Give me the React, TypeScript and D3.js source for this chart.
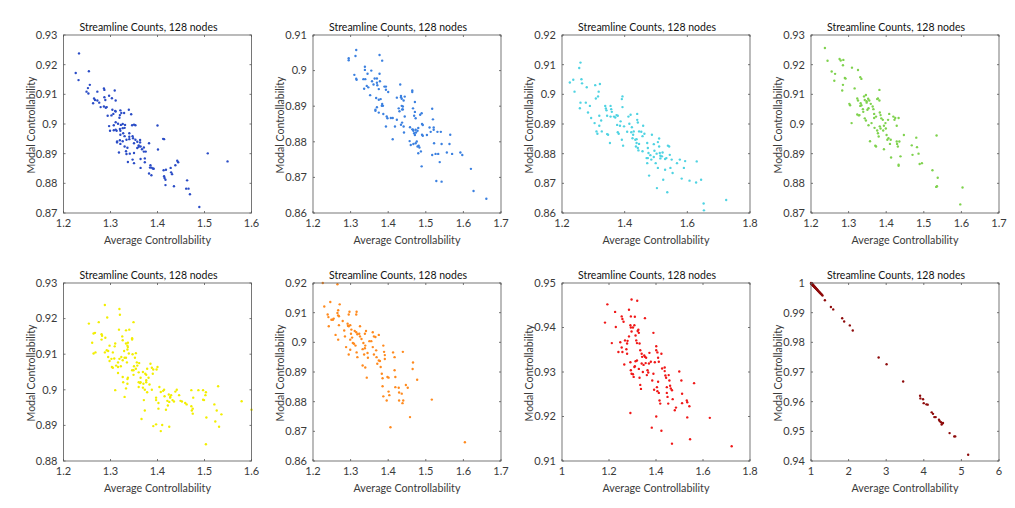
import React from "react";
import * as d3 from "d3";

const TITLE = "Streamline Counts, 128 nodes";
const X_LABEL = "Average Controllability";
const Y_LABEL = "Modal Controllability";

const COLORS = ["#2a4cc6", "#3b80e0", "#4fd3e2", "#7fd24e", "#f2ee00", "#ff8a1e", "#f01818", "#8e0b0b"];

const xTicks1 = [1.2, 1.3, 1.4, 1.5, 1.6];
const yTicks1 = [0.87, 0.88, 0.89, 0.9, 0.91, 0.92, 0.93];
const xTicks2 = [1.2, 1.3, 1.4, 1.5, 1.6, 1.7];
const yTicks2 = [0.86, 0.87, 0.88, 0.89, 0.9, 0.91];
const xTicks3 = [1.2, 1.4, 1.6, 1.8];
const yTicks3 = [0.86, 0.87, 0.88, 0.89, 0.9, 0.91, 0.92];
const xTicks4 = [1.2, 1.3, 1.4, 1.5, 1.6, 1.7];
const yTicks4 = [0.87, 0.88, 0.89, 0.9, 0.91, 0.92, 0.93];
const xTicks5 = [1.2, 1.3, 1.4, 1.5, 1.6];
const yTicks5 = [0.88, 0.89, 0.9, 0.91, 0.92, 0.93];
const xTicks6 = [1.2, 1.3, 1.4, 1.5, 1.6, 1.7];
const yTicks6 = [0.86, 0.87, 0.88, 0.89, 0.9, 0.91, 0.92];
const xTicks7 = [1, 1.2, 1.4, 1.6, 1.8];
const yTicks7 = [0.91, 0.92, 0.93, 0.94, 0.95];
const xTicks8 = [1, 2, 3, 4, 5, 6];
const yTicks8 = [0.94, 0.95, 0.96, 0.97, 0.98, 0.99, 1];

const series1: [number, number][] = [
  [1.233,0.9238],[1.226,0.9172],[1.254,0.9178],[1.232,0.9148],[1.256,0.9132],[1.252,0.9121],[1.249,0.9109],[1.253,0.9103],
  [1.272,0.9109],[1.286,0.912],[1.287,0.9115],[1.309,0.9113],
  [1.265,0.9086],[1.267,0.9081],[1.272,0.9079],[1.263,0.907],[1.276,0.9072],[1.287,0.909],[1.289,0.9081],[1.297,0.9095],[1.303,0.9087],[1.311,0.9079],
  [1.279,0.9057],[1.286,0.9059],[1.292,0.9057],[1.29,0.9055],
  [1.294,0.9028],[1.302,0.9029],[1.306,0.9034],[1.31,0.9044],[1.311,0.9042],[1.321,0.9046],[1.304,0.9048],
  [1.323,0.9037],[1.319,0.9021],[1.32,0.903],[1.329,0.9037],[1.339,0.9048],[1.344,0.9033],
  [1.297,0.8993],[1.307,0.8996],[1.311,0.9006],[1.316,0.9001],[1.322,0.8997],[1.326,0.9],[1.331,0.8997],[1.35,0.8998],[1.353,0.8996],[1.4,0.8995],
  [1.299,0.8977],[1.307,0.8979],[1.313,0.8977],[1.311,0.8981],[1.32,0.8983],[1.321,0.8977],[1.326,0.8986],[1.33,0.8987],
  [1.321,0.8964],[1.327,0.8969],[1.33,0.8959],[1.34,0.8957],[1.347,0.8959],[1.34,0.8969],[1.346,0.8996],
  [1.314,0.8941],[1.314,0.8938],[1.32,0.8945],[1.321,0.8933],[1.326,0.8942],[1.334,0.8947],[1.34,0.8949],[1.348,0.8952],[1.353,0.8947],[1.357,0.894],[1.363,0.8946],[1.36,0.8928],[1.364,0.8924],
  [1.33,0.8924],[1.336,0.892],[1.333,0.8908],[1.35,0.8935],[1.36,0.8923],[1.363,0.8938],[1.371,0.8921],[1.382,0.8935],
  [1.318,0.8904],[1.334,0.8899],[1.341,0.89],[1.35,0.8902],[1.357,0.8919],[1.367,0.8915],[1.371,0.8907],[1.375,0.8907],[1.401,0.8914],[1.412,0.895],[1.414,0.8949],
  [1.337,0.8872],[1.347,0.888],[1.35,0.8868],[1.364,0.8882],[1.373,0.8884],[1.373,0.8871],[1.385,0.8861],[1.387,0.8853],[1.384,0.8853],
  [1.364,0.8852],[1.39,0.885],[1.392,0.8849],[1.413,0.8844],[1.418,0.8846],[1.428,0.8852],[1.442,0.8876],[1.438,0.8861],[1.444,0.8871],
  [1.382,0.8833],[1.387,0.8827],[1.414,0.8824],[1.415,0.8818],[1.417,0.8812],[1.417,0.8794],[1.435,0.879],[1.429,0.8837],[1.431,0.8831],
  [1.463,0.881],[1.461,0.8782],[1.466,0.8782],[1.469,0.8763],[1.489,0.872],
  [1.507,0.8901],[1.549,0.8874],
];

const series2: [number, number][] = [
  [1.295,0.9035],[1.295,0.9029],[1.315,0.9058],[1.313,0.9041],[1.315,0.8977],[1.316,0.8974],[1.31,0.8988],
  [1.338,0.9011],[1.338,0.9002],[1.345,0.8991],[1.334,0.8976],[1.339,0.8976],[1.343,0.8957],[1.347,0.8953],[1.336,0.8949],[1.352,0.8931],
  [1.355,0.9],[1.357,0.897],[1.361,0.8961],[1.364,0.8978],[1.37,0.8978],[1.37,0.8966],[1.371,0.8959],[1.375,0.8948],[1.377,0.8991],[1.378,0.897],[1.377,0.9044],[1.384,0.9028],
  [1.368,0.8923],[1.37,0.8897],[1.366,0.889],[1.375,0.8918],[1.38,0.892],[1.384,0.8906],[1.383,0.8901],[1.386,0.8901],[1.39,0.8955],[1.394,0.8955],[1.394,0.8946],[1.4,0.894],
  [1.366,0.8887],[1.375,0.8882],[1.387,0.8878],[1.396,0.8871],[1.398,0.8866],[1.407,0.8867],[1.412,0.8867],[1.418,0.8843],[1.394,0.8843],[1.412,0.8807],[1.43,0.8886],[1.437,0.8891],
  [1.423,0.8924],[1.434,0.8929],[1.434,0.8925],[1.436,0.8921],[1.441,0.8916],[1.444,0.8927],[1.436,0.8901],[1.439,0.8899],[1.439,0.8891],[1.444,0.8871],
  [1.432,0.8961],[1.428,0.8894],[1.423,0.8862],[1.434,0.8848],[1.437,0.8854],[1.441,0.8843],[1.442,0.8826],
  [1.464,0.894],[1.464,0.8944],[1.471,0.8912],[1.466,0.8894],[1.469,0.8873],[1.471,0.8884],[1.473,0.8866],
  [1.458,0.8841],[1.464,0.8835],[1.466,0.8834],[1.467,0.8831],[1.473,0.8834],[1.474,0.8826],[1.478,0.8831],[1.48,0.8839],[1.469,0.8824],[1.471,0.8819],
  [1.457,0.8802],[1.46,0.8791],[1.467,0.8794],[1.473,0.8796],[1.476,0.8801],[1.478,0.8787],[1.481,0.8789],[1.483,0.8784],[1.48,0.8768],[1.487,0.8773],[1.489,0.8731],
  [1.489,0.888],[1.485,0.8876],[1.49,0.885],[1.492,0.8847],[1.49,0.882],[1.492,0.8817],[1.503,0.8819],[1.51,0.884],[1.513,0.8828],[1.521,0.884],
  [1.517,0.8893],[1.519,0.8863],[1.521,0.8834],[1.522,0.8796],[1.517,0.8763],[1.526,0.8766],[1.533,0.8766],[1.537,0.8743],[1.531,0.8828],
  [1.528,0.869],[1.542,0.8688],
  [1.54,0.8828],[1.542,0.8794],[1.565,0.882],[1.563,0.8794],[1.57,0.8766],[1.556,0.877],
  [1.592,0.877],[1.597,0.8763],[1.62,0.8724],[1.627,0.8662],[1.661,0.864],
];

const series3: [number, number][] = [
  [1.259,0.9107],[1.255,0.9089],[1.225,0.904],[1.236,0.9049],[1.24,0.9009],[1.262,0.9051],[1.264,0.9037],[1.259,0.8972],[1.257,0.8953],[1.276,0.8972],[1.279,0.9024],[1.283,0.8939],[1.289,0.8961],[1.293,0.892],
  [1.306,0.9031],[1.308,0.8986],[1.317,0.9009],[1.315,0.8993],[1.321,0.9035],[1.304,0.8903],[1.31,0.8875],[1.313,0.8867],[1.319,0.8928],[1.319,0.8894],[1.325,0.8912],[1.327,0.8875],
  [1.338,0.8961],[1.34,0.8952],[1.342,0.8946],[1.344,0.8928],[1.344,0.8866],[1.347,0.8864],[1.355,0.8961],[1.357,0.895],[1.359,0.8941],[1.355,0.8925],[1.353,0.8836],
  [1.366,0.8925],[1.37,0.8922],[1.374,0.893],[1.378,0.8928],[1.376,0.8897],[1.378,0.8872],[1.381,0.8867],[1.391,0.8847],[1.393,0.8993],[1.393,0.8957],[1.391,0.8984],[1.395,0.8827],
  [1.387,0.8909],[1.385,0.8894],[1.398,0.8892],[1.408,0.8874],[1.415,0.8901],[1.412,0.8925],[1.419,0.8931],[1.423,0.8889],[1.421,0.8872],[1.427,0.8864],[1.429,0.8875],[1.425,0.8852],
  [1.434,0.8847],[1.438,0.8849],[1.438,0.8836],[1.436,0.8824],[1.44,0.8914],[1.44,0.8934],[1.442,0.8905],[1.446,0.8875],[1.446,0.8833],[1.444,0.8811],[1.442,0.8819],
  [1.453,0.8874],[1.457,0.8859],[1.457,0.8808],[1.459,0.8894],[1.463,0.8867],[1.472,0.8836],[1.474,0.8819],[1.476,0.8802],[1.47,0.8785],[1.472,0.8768],[1.474,0.8785],
  [1.482,0.8795],[1.485,0.878],[1.487,0.8864],[1.478,0.8726],[1.493,0.8789],[1.495,0.881],[1.493,0.8832],[1.499,0.8768],[1.502,0.88],[1.506,0.8839],[1.506,0.8752],
  [1.51,0.8851],[1.51,0.8824],[1.512,0.8802],[1.514,0.8793],[1.514,0.8784],[1.521,0.8804],[1.519,0.8791],[1.523,0.8712],[1.529,0.8782],[1.533,0.8785],[1.529,0.8746],
  [1.538,0.8827],[1.542,0.8824],[1.544,0.8796],[1.546,0.8752],[1.55,0.878],[1.553,0.8735],[1.536,0.867],[1.503,0.8684],
  [1.567,0.8768],[1.576,0.878],[1.589,0.8752],[1.593,0.8775],[1.582,0.8716],[1.607,0.8709],[1.628,0.8703],[1.644,0.8712],[1.63,0.8774],[1.652,0.8632],[1.653,0.8609],[1.724,0.8644],
];

const series4: [number, number][] = [
  [1.237,0.9256],[1.244,0.9213],[1.255,0.9177],[1.264,0.9169],[1.262,0.9146],[1.276,0.9219],[1.279,0.9214],[1.286,0.9216],[1.285,0.9198],[1.285,0.9132],[1.283,0.9113],[1.29,0.9155],[1.292,0.9153],
  [1.309,0.919],[1.325,0.9182],[1.331,0.9158],[1.334,0.9152],[1.316,0.912],[1.302,0.9068],[1.304,0.9063],[1.308,0.9003],
  [1.323,0.9086],[1.325,0.9079],[1.323,0.9032],[1.327,0.9029],[1.329,0.903],[1.331,0.9061],[1.334,0.9063],[1.332,0.907],[1.338,0.905],[1.339,0.9041],[1.343,0.9019],[1.346,0.9012],
  [1.341,0.9093],[1.343,0.9081],[1.346,0.9098],[1.348,0.9077],[1.348,0.9072],[1.352,0.9085],[1.355,0.9079],[1.35,0.9048],[1.353,0.9053],[1.353,0.8996],[1.361,0.9003],
  [1.359,0.9068],[1.364,0.9059],[1.366,0.905],[1.368,0.9034],[1.368,0.902],[1.373,0.9025],[1.369,0.8987],[1.376,0.9084],[1.378,0.9086],[1.382,0.9079],[1.382,0.9115],
  [1.357,0.8942],[1.371,0.8927],[1.373,0.8924],[1.376,0.8978],[1.378,0.8969],[1.38,0.8958],[1.383,0.9039],[1.385,0.903],[1.387,0.9019],[1.391,0.9014],
  [1.383,0.8992],[1.385,0.8985],[1.394,0.8994],[1.392,0.8978],[1.398,0.9003],[1.399,0.8985],[1.401,0.8963],[1.403,0.8947],[1.405,0.9014],[1.406,0.8952],[1.408,0.9034],
  [1.394,0.8915],[1.41,0.8933],[1.412,0.8947],[1.419,0.9025],[1.422,0.9014],[1.424,0.902],[1.428,0.8994],[1.428,0.8941],[1.429,0.8933],[1.431,0.8924],[1.433,0.902],[1.435,0.8941],
  [1.413,0.8887],[1.433,0.8863],[1.433,0.8859],[1.438,0.8891],[1.447,0.8963],[1.468,0.8928],[1.47,0.8896],[1.48,0.8954],[1.482,0.8922],[1.486,0.89],[1.489,0.8865],[1.495,0.8868],
  [1.523,0.8844],[1.533,0.8788],[1.535,0.879],[1.537,0.8819],[1.534,0.8961],[1.597,0.8729],[1.603,0.8786],
];

const series5: [number, number][] = [
  [1.288,0.9238],[1.319,0.9227],[1.32,0.9211],[1.293,0.9203],[1.275,0.919],[1.254,0.9186],[1.264,0.9158],[1.267,0.916],[1.261,0.9132],[1.264,0.9102],[1.268,0.9105],
  [1.281,0.9156],[1.282,0.9152],[1.281,0.9141],[1.289,0.9146],
  [1.288,0.9105],[1.292,0.9111],[1.295,0.9109],[1.298,0.9124],[1.305,0.9105],[1.295,0.9092],[1.298,0.9081],[1.309,0.9122],[1.31,0.913],[1.319,0.9087],[1.308,0.9088],[1.316,0.9077],
  [1.318,0.9169],[1.325,0.915],[1.333,0.9167],[1.34,0.9169],[1.349,0.919],[1.326,0.9139],[1.333,0.913],[1.336,0.9124],[1.337,0.9132],[1.323,0.9092],[1.329,0.9109],[1.336,0.9113],[1.337,0.912],[1.339,0.9102],[1.346,0.9145],[1.346,0.9141],
  [1.302,0.9087],[1.303,0.9064],[1.305,0.9062],[1.312,0.9068],[1.316,0.9064],[1.322,0.9066],[1.326,0.9083],[1.33,0.909],[1.333,0.909],[1.335,0.9077],[1.346,0.9055],[1.35,0.9066],[1.354,0.9059],
  [1.326,0.9036],[1.327,0.9021],[1.336,0.903],[1.336,0.9017],[1.333,0.9004],[1.337,0.9034],[1.316,0.9047],[1.31,0.8999],[1.33,0.898],[1.349,0.9042],[1.349,0.9055],
  [1.347,0.91],[1.352,0.909],[1.356,0.9077],[1.357,0.9068],[1.361,0.9075],[1.354,0.9103],
  [1.369,0.905],[1.374,0.9045],[1.378,0.9059],[1.376,0.9042],[1.381,0.9034],[1.385,0.9073],[1.388,0.9062],[1.39,0.9045],[1.391,0.9057],[1.398,0.9057],[1.4,0.9064],
  [1.36,0.9049],[1.364,0.9034],[1.364,0.9021],[1.37,0.9017],[1.376,0.9027],[1.376,0.9021],[1.378,0.8993],[1.383,0.9015],[1.388,0.9],[1.397,0.8978],[1.397,0.8971],[1.402,0.8963],[1.402,0.8947],
  [1.36,0.9021],[1.363,0.9019],[1.36,0.9008],[1.369,0.9006],[1.373,0.9],
  [1.404,0.9008],[1.414,0.9],[1.424,0.8987],[1.427,0.8978],[1.432,0.8971],[1.438,0.8995],[1.441,0.9],[1.446,0.8985],[1.449,0.8969],[1.452,0.8967],
  [1.407,0.8994],[1.412,0.8997],[1.415,0.8982],[1.418,0.8944],[1.421,0.8969],[1.425,0.8966],[1.427,0.898],[1.429,0.8985],[1.435,0.8967],
  [1.371,0.8971],[1.373,0.8942],[1.366,0.8918],[1.391,0.8898],[1.407,0.8884],[1.397,0.8903],[1.41,0.8901],[1.425,0.8896],[1.422,0.8956],
  [1.459,0.8963],[1.462,0.8959],[1.472,0.8954],[1.473,0.8942],[1.475,0.8933],[1.472,0.8999],[1.476,0.8978],[1.475,0.8947],
  [1.487,0.8999],[1.497,0.8999],[1.503,0.8993],[1.499,0.8971],[1.502,0.8985],[1.497,0.8972],[1.504,0.8922],[1.529,0.901],[1.521,0.8959],[1.526,0.8942],[1.523,0.8911],[1.531,0.8896],[1.536,0.8931],[1.503,0.8847],
  [1.579,0.8968],[1.6,0.8944],
];

const series6: [number, number][] = [
  [1.226,0.92],[1.265,0.9196],[1.23,0.9121],[1.246,0.9136],[1.239,0.9094],[1.241,0.9085],[1.242,0.9054],[1.249,0.9076],[1.253,0.9076],[1.255,0.908],
  [1.267,0.9108],[1.265,0.9099],[1.271,0.9128],[1.267,0.9091],[1.269,0.9088],[1.269,0.9058],[1.26,0.9025],[1.267,0.9009],[1.279,0.9072],[1.283,0.904],[1.285,0.902],[1.288,0.8984],
  [1.295,0.9094],[1.297,0.9103],[1.292,0.9063],[1.293,0.9056],[1.295,0.9054],[1.299,0.9058],[1.302,0.9043],[1.301,0.9029],[1.299,0.9009],[1.304,0.9016],[1.306,0.8998],[1.295,0.8959],[1.299,0.8975],
  [1.315,0.9094],[1.316,0.9103],[1.311,0.9038],[1.315,0.9034],[1.318,0.9027],[1.309,0.8995],[1.313,0.8989],[1.316,0.8966],[1.318,0.895],[1.325,0.9054],[1.323,0.9029],[1.325,0.902],[1.329,0.9011],
  [1.334,0.8998],[1.332,0.8977],[1.336,0.8959],[1.338,0.898],[1.339,0.8989],[1.338,0.9029],[1.341,0.9038],[1.332,0.8922],[1.339,0.8915],[1.343,0.8881],
  [1.345,0.8964],[1.346,0.8948],[1.35,0.9004],[1.355,0.9004],[1.359,0.9034],[1.362,0.902],[1.366,0.9018],[1.359,0.8984],[1.362,0.8959],[1.368,0.8973],[1.369,0.895],[1.371,0.8928],
  [1.375,0.9025],[1.375,0.8939],[1.378,0.8937],[1.38,0.8917],[1.383,0.8894],[1.385,0.8879],[1.387,0.8989],[1.389,0.8968],[1.391,0.8957],[1.391,0.8944],[1.398,0.8883],[1.401,0.8881],
  [1.385,0.8852],[1.387,0.8818],[1.396,0.8804],[1.401,0.8834],[1.403,0.8822],[1.406,0.8714],[1.413,0.8966],[1.417,0.895],[1.417,0.8906],[1.419,0.8883],[1.439,0.8968],[1.419,0.8849],[1.428,0.8847],
  [1.429,0.8831],[1.436,0.8827],[1.429,0.8804],[1.44,0.8804],[1.438,0.8795],[1.458,0.8748],[1.452,0.8847],[1.447,0.8856],[1.465,0.891],[1.466,0.8932],[1.477,0.8874],[1.516,0.8807],[1.604,0.8663],
];

const series7: [number, number][] = [
  [1.193,0.9452],[1.183,0.9411],[1.226,0.9435],[1.229,0.9401],[1.212,0.9365],[1.24,0.9345],[1.248,0.9367],[1.254,0.9355],[1.257,0.9345],[1.254,0.9425],[1.257,0.9419],[1.262,0.9413],
  [1.268,0.9371],[1.265,0.9317],[1.274,0.9351],[1.277,0.9341],[1.277,0.9364],[1.279,0.937],[1.285,0.938],[1.285,0.944],[1.291,0.9405],[1.293,0.9425],[1.293,0.94],[1.296,0.9463],[1.296,0.9391],
  [1.291,0.9322],[1.293,0.9304],[1.296,0.9296],[1.291,0.9208],[1.302,0.94],[1.308,0.9405],[1.31,0.9424],[1.313,0.9382],[1.316,0.9371],[1.319,0.9365],[1.32,0.946],[1.322,0.9392],[1.327,0.9388],[1.325,0.9395],
  [1.33,0.9364],[1.333,0.9349],[1.339,0.9341],[1.341,0.9334],[1.302,0.9295],[1.305,0.9289],[1.308,0.9311],[1.31,0.9313],[1.313,0.9324],[1.319,0.9326],[1.327,0.9307],[1.33,0.9287],[1.333,0.9271],[1.336,0.9262],
  [1.339,0.9319],[1.344,0.93],[1.347,0.9316],[1.35,0.9337],[1.353,0.9421],[1.353,0.9334],[1.356,0.932],[1.358,0.9332],[1.361,0.9293],[1.364,0.9304],[1.367,0.9299],[1.37,0.9319],[1.372,0.9343],[1.378,0.9323],
  [1.384,0.9281],[1.389,0.9388],[1.389,0.9296],[1.392,0.926],[1.395,0.9322],[1.401,0.9358],[1.401,0.9349],[1.406,0.9344],[1.409,0.9332],[1.412,0.9323],[1.409,0.9278],[1.404,0.9266],[1.406,0.9257],[1.412,0.9253],
  [1.415,0.9236],[1.418,0.9229],[1.401,0.92],[1.382,0.9175],[1.423,0.9341],[1.426,0.9308],[1.437,0.9302],[1.44,0.9292],[1.443,0.9287],[1.446,0.9266],[1.446,0.9253],[1.449,0.9244],[1.452,0.9229],[1.423,0.9168],
  [1.437,0.931],[1.454,0.9293],[1.457,0.9281],[1.46,0.9269],[1.463,0.9263],[1.468,0.9259],[1.471,0.9239],[1.48,0.9214],[1.485,0.922],[1.468,0.9139],
  [1.499,0.9301],[1.508,0.9281],[1.511,0.9251],[1.511,0.923],[1.531,0.9236],[1.533,0.9232],[1.542,0.9223],[1.533,0.9198],[1.545,0.9149],[1.562,0.9275],[1.629,0.9197],[1.722,0.9133],
];

const series8: [number, number][] = [
  [1.0,0.99998],[1.003,0.99995],[1.006,0.99991],[1.008,0.99989],[1.01,0.99985],[1.013,0.99982],[1.015,0.99979],[1.018,0.99975],[1.02,0.99972],[1.022,0.99969],
  [1.025,0.99965],[1.028,0.99961],[1.03,0.99958],[1.033,0.99954],[1.036,0.9995],[1.04,0.99945],[1.043,0.9994],[1.046,0.99936],[1.05,0.99931],[1.054,0.99925],
  [1.058,0.9992],[1.062,0.99914],[1.066,0.99909],[1.07,0.99903],[1.075,0.99896],[1.08,0.99889],[1.085,0.99882],[1.09,0.99876],[1.096,0.99867],[1.102,0.99859],
  [1.108,0.99851],[1.115,0.99841],[1.122,0.99832],[1.13,0.9982],[1.138,0.99809],[1.146,0.99798],[1.155,0.99786],[1.165,0.99772],[1.175,0.99758],[1.186,0.99743],
  [1.198,0.99726],[1.21,0.9971],[1.224,0.9969],[1.238,0.99671],[1.254,0.99649],[1.27,0.99627],[1.288,0.99602],[1.306,0.99577],
  [1.37,0.9942],[1.529,0.9919],[1.591,0.9911],[1.829,0.9881],[1.882,0.987],[2.032,0.9857],[2.111,0.984],
  [2.799,0.9749],[3.01,0.9726],[3.451,0.9668],
  [3.901,0.962],[3.91,0.9611],[3.98,0.9608],[3.998,0.9595],[4.069,0.9591],[4.104,0.959],[4.21,0.9564],[4.245,0.9559],[4.28,0.9548],[4.316,0.9548],
  [4.404,0.9539],[4.421,0.9535],[4.457,0.9531],[4.474,0.9523],[4.492,0.9526],[4.51,0.9528],[4.686,0.9494],[4.809,0.9483],[4.836,0.9483],[5.18,0.9421],
];

const PANEL_SERIES = [series1, series2, series3, series4, series5, series6, series7, series8];
const PANEL_XTICKS = [xTicks1, xTicks2, xTicks3, xTicks4, xTicks5, xTicks6, xTicks7, xTicks8];
const PANEL_YTICKS = [yTicks1, yTicks2, yTicks3, yTicks4, yTicks5, yTicks6, yTicks7, yTicks8];

const W = 1015;
const H = 508;
const COL_LEFT = [63.5, 313, 562, 811];
const ROW_TOP = [35, 283];
const AX_W = 188;
const AX_H = 178;
const TICK = 2;
const FONT = "Lato, 'Open Sans', sans-serif";
const AXIS_COLOR = "#555555";
const TEXT_COLOR = "#3a3a3a";

const fmt = d3.format("~g");

function Panel({ idx }: { idx: number }) {
  const left = COL_LEFT[idx % 4];
  const top = ROW_TOP[Math.floor(idx / 4)];
  const xt = PANEL_XTICKS[idx];
  const yt = PANEL_YTICKS[idx];
  const x = d3.scaleLinear().domain([xt[0], xt[xt.length - 1]]).range([left, left + AX_W]);
  const y = d3.scaleLinear().domain([yt[0], yt[yt.length - 1]]).range([top + AX_H, top]);
  const bottom = top + AX_H;
  const right = left + AX_W;
  const cx = left + AX_W / 2;
  const cy = top + AX_H / 2;
  return (
    <g>
      {PANEL_SERIES[idx].map((d, i) => (
        <circle key={i} cx={x(d[0])} cy={y(d[1])} r={1.2} fill={COLORS[idx]} />
      ))}
      <rect x={left} y={top} width={AX_W} height={AX_H} fill="none" stroke={AXIS_COLOR} strokeWidth={0.8} />
      {xt.map((t, i) => (
        <g key={"x" + i}>
          <line x1={x(t)} x2={x(t)} y1={bottom} y2={bottom - TICK} stroke={AXIS_COLOR} strokeWidth={0.8} />
          <line x1={x(t)} x2={x(t)} y1={top} y2={top + TICK} stroke={AXIS_COLOR} strokeWidth={0.8} />
          <text x={x(t)} y={bottom + 14} textAnchor="middle" fontSize={11} fill={TEXT_COLOR} fontFamily={FONT}>
            {fmt(t)}
          </text>
        </g>
      ))}
      {yt.map((t, i) => (
        <g key={"y" + i}>
          <line x1={left} x2={left + TICK} y1={y(t)} y2={y(t)} stroke={AXIS_COLOR} strokeWidth={0.8} />
          <line x1={right} x2={right - TICK} y1={y(t)} y2={y(t)} stroke={AXIS_COLOR} strokeWidth={0.8} />
          <text x={left - 6} y={y(t)} dy="0.35em" textAnchor="end" fontSize={11} fill={TEXT_COLOR} fontFamily={FONT}>
            {fmt(t)}
          </text>
        </g>
      ))}
      <text
        x={cx - 9}
        y={top - 4}
        textAnchor="middle"
        fontSize={11.5}
        fill="#111"
        fontFamily={FONT}
        textLength={138}
        lengthAdjust="spacingAndGlyphs"
      >
        {TITLE}
      </text>
      <text
        x={cx}
        y={bottom + 30.5}
        textAnchor="middle"
        fontSize={11.5}
        fill={TEXT_COLOR}
        fontFamily={FONT}
        textLength={107}
        lengthAdjust="spacingAndGlyphs"
      >
        {X_LABEL}
      </text>
      <text
        transform={`translate(${left - 29},${cy + 1}) rotate(-90)`}
        textAnchor="middle"
        fontSize={11.5}
        fill={TEXT_COLOR}
        fontFamily={FONT}
        textLength={97}
        lengthAdjust="spacingAndGlyphs"
      >
        {Y_LABEL}
      </text>
    </g>
  );
}

export default function App() {
  return (
    <svg width={W} height={H} style={{ position: "absolute", left: 0, top: 0, display: "block" }}>
      <rect x={0} y={0} width={W} height={H} fill="#ffffff" />
      {PANEL_SERIES.map((_, i) => (
        <Panel key={i} idx={i} />
      ))}
    </svg>
  );
}
